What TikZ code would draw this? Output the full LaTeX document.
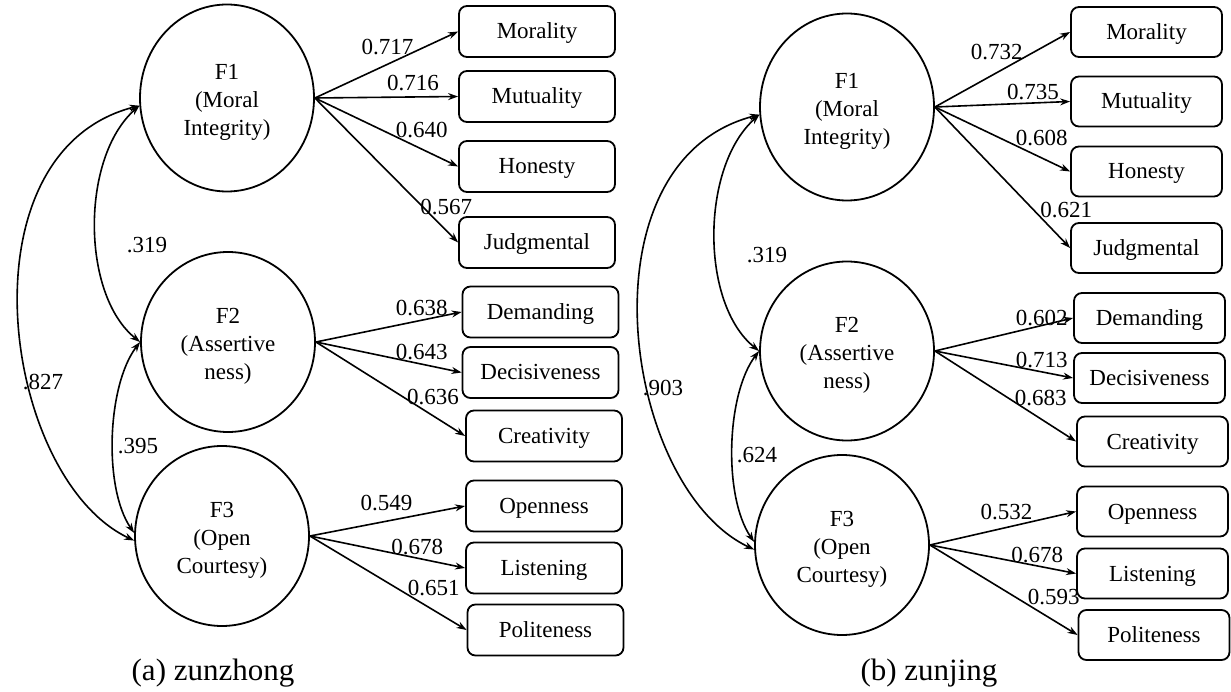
\documentclass[tikz,border=0pt]{standalone}
\usepackage{fontspec}
\setmainfont{Liberation Serif}
\usetikzlibrary{shapes.geometric,arrows.meta}
\newcommand{\topstrut}{\rule{0pt}{23pt}}
\begin{document}
\begin{tikzpicture}[x=1pt,y=-1pt,
  factor/.style={draw,line width=1.8pt,ellipse,inner sep=0pt,align=center,
    font=\fontsize{23}{28}\selectfont,minimum width=174pt},
  obsA/.style={draw,line width=1.8pt,rounded corners=8pt,minimum width=156pt,
    minimum height=51pt,inner sep=0pt,text height=17pt,text depth=2pt,
    font=\fontsize{23}{28}\selectfont},
  obsB/.style={obsA,minimum width=151pt,minimum height=50pt},
  load/.style={line width=1.6pt,-{Stealth[length=10pt,width=7pt]}},
  cov/.style={line width=1.6pt,{Stealth[length=10pt,width=7pt]}-{Stealth[length=10pt,width=7pt]}},
  lbl/.style={inner sep=0pt,font=\fontsize{23}{28}\selectfont},
  captext/.style={inner sep=0pt,font=\fontsize{31}{36}\selectfont}]
\useasboundingbox (0,0) rectangle (1231,692);

% ---------- panel (a) ----------
\node[factor,minimum height=187pt] (aF1) at (227,98) {\topstrut F1\\(Moral\\Integrity)};
\node[factor,minimum height=180pt] (aF2) at (228,342) {\topstrut F2\\(Assertive\\ness)};
\node[factor,minimum height=180pt] (aF3) at (222,536) {\topstrut F3\\(Open\\Courtesy)};

\node[obsA] (a1) at (537,31.5) {Morality};
\node[obsA] (a2) at (537,96.5) {Mutuality};
\node[obsA] (a3) at (537,166.5) {Honesty};
\node[obsA] (a4) at (537,242.5) {Judgmental};
\node[obsA] (a5) at (540.5,312) {Demanding};
\node[obsA] (a6) at (540.5,372.5) {Decisiveness};
\node[obsA] (a7) at (544,436) {Creativity};
\node[obsA] (a8) at (544,506) {Openness};
\node[obsA] (a9) at (544,568) {Listening};
\node[obsA] (a10) at (545.5,630) {Politeness};

\draw[load] (aF1.east) -- node[lbl,pos=0.507,yshift=17pt]{0.717} (a1.west);
\draw[load] (aF1.east) -- node[lbl,pos=0.685,yshift=14pt]{0.716} (a2.west);
\draw[load] (aF1.east) -- node[lbl,pos=0.747,yshift=19pt]{0.640} (a3.west);
\draw[load] (aF1.east) -- node[lbl,pos=0.918,yshift=23.5pt]{0.567} (a4.west);
\draw[load] (aF2.east) -- node[lbl,pos=0.727,yshift=12pt]{0.638} (a5.west);
\draw[load] (aF2.east) -- node[lbl,pos=0.727,yshift=12pt]{0.643} (a6.west);
\draw[load] (aF2.east) -- node[lbl,pos=0.784,yshift=18.5pt]{0.636} (a7.west);
\draw[load] (aF3.east) -- node[lbl,pos=0.494,yshift=18pt]{0.549} (a8.west);
\draw[load] (aF3.east) -- node[lbl,pos=0.692,yshift=11pt]{0.678} (a9.west);
\draw[load] (aF3.east) -- node[lbl,pos=0.791,yshift=22pt]{0.651} (a10.west);

\draw[cov] (aF1.185) .. controls +(-59,52) and +(-59,-47) .. (aF2.180);
\draw[cov] (aF2.180) .. controls +(-33,43) and +(-31,-45) .. (aF3.178);
\draw[cov] (aF1.185) .. controls +(-182,47) and +(-132,-62) .. (aF3.183);

\node[lbl] (ca1) at (147,245) {.319};
\node[lbl] (ca2) at (43,382) {.827};
\node[lbl] (ca3) at (138,446) {.395};

\node[captext] (capa) at (213,673) {(a) zunzhong};

% ---------- panel (b) ----------
\node[factor,minimum height=187pt] (bF1) at (847,107) {\topstrut F1\\(Moral\\Integrity)};
\node[factor,minimum height=179pt] (bF2) at (847,351) {\topstrut F2\\(Assertive\\ness)};
\node[factor,minimum height=180pt] (bF3) at (842,545) {\topstrut F3\\(Open\\Courtesy)};

\node[obsB] (b1) at (1146.5,32) {Morality};
\node[obsB] (b2) at (1146.5,101.5) {Mutuality};
\node[obsB] (b3) at (1146.5,171.5) {Honesty};
\node[obsB] (b4) at (1146.5,248) {Judgmental};
\node[obsB] (b5) at (1149.5,318) {Demanding};
\node[obsB] (b6) at (1149.5,378) {Decisiveness};
\node[obsB] (b7) at (1152.5,441.5) {Creativity};
\node[obsB] (b8) at (1152.5,511.5) {Openness};
\node[obsB] (b9) at (1152.5,573.5) {Listening};
\node[obsB] (b10) at (1154,635) {Politeness};

\draw[load] (bF1.east) -- node[lbl,pos=0.457,yshift=20.5pt]{0.732} (b1.west);
\draw[load] (bF1.east) -- node[lbl,pos=0.725,yshift=11pt]{0.735} (b2.west);
\draw[load] (bF1.east) -- node[lbl,pos=0.79,yshift=20pt]{0.608} (b3.west);
\draw[load] (bF1.east) -- node[lbl,pos=0.971,yshift=34pt]{0.621} (b4.west);
\draw[load] (bF2.east) -- node[lbl,pos=0.773,yshift=7.5pt]{0.602} (b5.west);
\draw[load] (bF2.east) -- node[lbl,pos=0.773,yshift=12pt]{0.713} (b6.west);
\draw[load] (bF2.east) -- node[lbl,pos=0.75,yshift=21pt]{0.683} (b7.west);
\draw[load] (bF3.east) -- node[lbl,pos=0.524,yshift=15pt]{0.532} (b8.west);
\draw[load] (bF3.east) -- node[lbl,pos=0.735,yshift=10.5pt]{0.678} (b9.west);
\draw[load] (bF3.east) -- node[lbl,pos=0.839,yshift=23pt]{0.593} (b10.west);

\draw[cov] (bF1.185) .. controls +(-59,52) and +(-59,-47) .. (bF2.180);
\draw[cov] (bF2.180) .. controls +(-33,43) and +(-31,-45) .. (bF3.178);
\draw[cov] (bF1.185) .. controls +(-182,47) and +(-132,-62) .. (bF3.183);

\node[lbl] (cb1) at (767,255) {.319};
\node[lbl] (cb2) at (663,388) {.903};
\node[lbl] (cb3) at (757,455) {.624};

\node[captext] (capb) at (929,673) {(b) zunjing};
\end{tikzpicture}
\end{document}
